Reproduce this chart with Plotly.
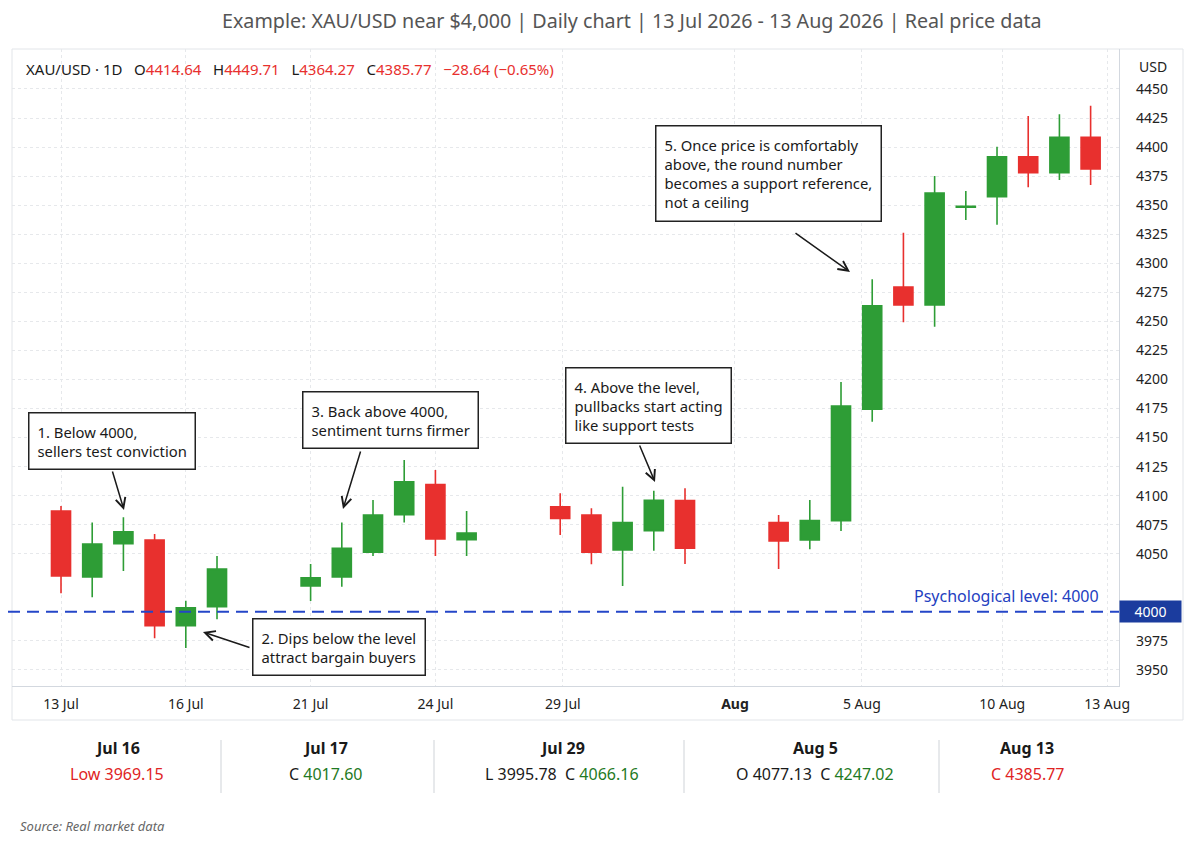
import plotly.graph_objects as go

# Daily XAU/USD candles
dates = [
    "2026-07-13", "2026-07-14", "2026-07-15", "2026-07-16", "2026-07-17", "2026-07-18",
    "2026-07-21", "2026-07-22", "2026-07-23", "2026-07-24", "2026-07-25", "2026-07-26",
    "2026-07-29", "2026-07-30", "2026-07-31", "2026-08-01", "2026-08-02",
    "2026-08-05", "2026-08-06", "2026-08-07", "2026-08-08", "2026-08-09", "2026-08-10",
    "2026-08-11", "2026-08-12", "2026-08-13", "2026-08-14", "2026-08-15",
]
opens = [4086.8, 4030.0, 4058.7, 4061.9, 3988.1, 4004.5,
         4022.3, 4030.0, 4051.3, 4083.6, 4109.5, 4062.1,
         4090.5, 4083.4, 4053.3, 4069.9, 4095.7,
         4076.8, 4061.9, 4078.5, 4174.4, 4279.6, 4264.1,
         4348.2, 4357.3, 4391.7, 4378.0, 4408.4]
highs = [4091.1, 4076.8, 4081.4, 4067.0, 4009.6, 4048.1,
         4041.2, 4076.8, 4096.3, 4130.7, 4122.1, 4086.8,
         4102.1, 4089.2, 4107.7, 4104.3, 4106.4,
         4083.4, 4096.3, 4197.8, 4286.2, 4326.3, 4375.1,
         4362.2, 4400.3, 4426.8, 4428.2, 4435.6]
lows = [4016.0, 4012.6, 4035.2, 3977.3, 3968.9, 3993.6,
        4009.4, 4021.7, 4048.1, 4076.8, 4048.1, 4048.1,
        4066.2, 4041.0, 4022.3, 4052.7, 4041.2,
        4036.9, 4053.9, 4069.6, 4163.7, 4249.2, 4245.4,
        4337.3, 4333.2, 4365.4, 4371.7, 4367.4]
closes = [4030.9, 4058.4, 4069.0, 3988.1, 4003.4, 4036.9,
          4029.4, 4054.7, 4083.4, 4112.0, 4062.7, 4067.9,
          4080.5, 4051.3, 4076.8, 4096.0, 4054.7,
          4061.0, 4078.5, 4177.2, 4263.5, 4264.1, 4360.5,
          4349.0, 4391.7, 4378.0, 4408.4, 4381.2]

level = 4000
price_ticks = [3950, 3975, 4050, 4075, 4100, 4125, 4150, 4175, 4200, 4225,
               4250, 4275, 4300, 4325, 4350, 4375, 4400, 4425, 4450]
date_ticks = ["13 Jul", "16 Jul", "21 Jul", "24 Jul", "29 Jul", "<b>Aug</b>",
              "5 Aug", "10 Aug", "13 Aug"]

callouts = [
    "1. Below 4000,<br>sellers test conviction",
    "2. Dips below the level<br>attract bargain buyers",
    "3. Back above 4000,<br>sentiment turns firmer",
    "4. Above the level,<br>pullbacks start acting<br>like support tests",
    "5. Once price is comfortably<br>above, the round number<br>becomes a support reference,<br>not a ceiling",
]

stat_dates = ["Jul 16", "Jul 17", "Jul 29", "Aug 5", "Aug 13"]
stat_values = [
    "<span style='color:#e02424'>Low 3969.15</span>",
    "C <span style='color:#1f7a24'>4017.60</span>",
    "L 3995.78  C <span style='color:#1f7a24'>4066.16</span>",
    "O 4077.13  C <span style='color:#1f7a24'>4247.02</span>",
    "<span style='color:#e02424'>C 4385.77</span>",
]

GREEN = "#2e9d36"
RED = "#e8302e"
FONT = "Noto Sans"

# page pixels of the plot area: x 12..1119, y 49..686
# (the html body adds an 8px margin, so the figure itself is 8px smaller)
OFF = 8
L, R, T, B = 12, 1119, 49, 686
W, H = R - L, B - T
FIG_W, FIG_H = 1193 - OFF, 846 - OFF


def px(x):
    return (x - L) / W


def py(y):
    return (B - y) / H


fig = go.Figure()
fig.add_trace(go.Candlestick(
    x=dates, open=opens, high=highs, low=lows, close=closes,
    increasing=dict(line=dict(color=GREEN, width=1.6), fillcolor=GREEN),
    decreasing=dict(line=dict(color=RED, width=1.6), fillcolor=RED),
    whiskerwidth=0, showlegend=False, name="XAU/USD",
))

fig.update_layout(
    width=FIG_W, height=FIG_H,
    margin=dict(l=L - OFF, r=FIG_W - (R - OFF), t=T - OFF, b=FIG_H - (B - OFF)),
    paper_bgcolor="white", plot_bgcolor="white",
    font=dict(family=FONT, color="#222"),
    boxgap=0.39, boxgroupgap=0,
    showlegend=False,
    xaxis=dict(
        type="date",
        range=["2026-07-11 10:18", "2026-08-15 21:50"],
        rangeslider=dict(visible=False),
        tickvals=["2026-07-13", "2026-07-17", "2026-07-21", "2026-07-25",
                  "2026-07-29 02:00", "2026-08-03 14:25", "2026-08-07 16:00",
                  "2026-08-12 04:00", "2026-08-15 12:40"],
        ticktext=date_ticks,
        tickfont=dict(size=14, color="#222"),
        ticks="", ticklabelstandoff=5,
        showgrid=True, gridcolor="#e6e8eb", griddash="dot", gridwidth=1,
        showline=True, linecolor="#d3d8df", linewidth=1.2,
        zeroline=False,
    ),
    yaxis=dict(
        side="right",
        range=[3936.2, 4484.4],
        tickvals=price_ticks,
        tickfont=dict(size=14, color="#222"),
        ticks="", ticklabelstandoff=13,
        showgrid=True, gridcolor="#e6e8eb", griddash="dot", gridwidth=1,
        showline=True, linecolor="#d3d8df", linewidth=1.2,
        zeroline=False,
    ),
)

# outer chart panel
fig.add_shape(type="rect", xref="paper", yref="paper",
              x0=px(12), x1=px(1183), y0=py(720), y1=py(49),
              line=dict(color="#e2e5e9", width=1), layer="below")

# psychological level
fig.add_shape(type="line", xref="paper", yref="y",
              x0=px(OFF), x1=1, y0=level, y1=level,
              line=dict(color="#2446c8", width=2, dash="12px,7px"))
fig.add_annotation(text="Psychological level: 4000", xref="paper", yref="paper",
                   x=px(1101), y=py(596), xanchor="right", yanchor="middle",
                   showarrow=False, font=dict(size=16, color="#2340bf"))
fig.add_annotation(text="4000", xref="paper", yref="y", x=1, y=level,
                   xanchor="left", yanchor="middle", showarrow=False,
                   width=55, height=15, borderpad=3, bgcolor="#1b3c9e",
                   font=dict(size=14, color="white"))

# header row
red = "<span style='color:#e8302e'>%s</span>"
gap = "\u00a0\u00a0\u00a0"
header = ("XAU/USD · 1D" + gap + "O" + red % "4414.64" + gap + "H" + red % "4449.71"
          + gap + "L" + red % "4364.27" + gap + "C" + red % "4385.77"
          + gap + red % "−28.64 (−0.65%)")
fig.add_annotation(text=header, xref="paper", yref="paper", x=px(24), y=py(69),
                   xanchor="left", yanchor="middle", showarrow=False,
                   font=dict(size=15, color="#1a1a1a"))
fig.add_annotation(text="USD", xref="paper", yref="paper", x=px(1153), y=py(67),
                   xanchor="center", yanchor="middle", showarrow=False,
                   font=dict(size=14, color="#222"))

# subtitle and source
fig.add_annotation(text="Example: XAU/USD near $4,000 | Daily chart | 13 Jul 2026 - 13 Aug 2026 | Real price data",
                   xref="paper", yref="paper", x=px(632), y=py(20),
                   xanchor="center", yanchor="middle", showarrow=False,
                   font=dict(size=19.7, color="#555"))
fig.add_annotation(text="<i>Source: Real market data</i>", xref="paper", yref="paper",
                   x=px(18), y=py(826), xanchor="left", yanchor="middle",
                   showarrow=False, font=dict(size=13, color="#666"))

# callout boxes (centre in page pixels) and their arrows (tail -> head)
box_centres = [(112, 441), (339, 647), (390, 420), (648, 405), (768, 173)]
arrows = [((112, 470), (124, 510)), ((251, 648), (203, 632)),
          ((361, 450), (343, 509)), ((639, 444), (655, 482)),
          ((794, 232), (850, 272))]
for text, (cx, cy), ((tx, ty), (hx, hy)) in zip(callouts, box_centres, arrows):
    fig.add_annotation(xref="x domain", yref="y domain", axref="x domain", ayref="y domain",
                       x=px(hx), y=py(hy), ax=px(tx), ay=py(ty), text="",
                       showarrow=True, arrowhead=5, arrowsize=1.3, arrowwidth=1.5,
                       arrowcolor="#1a1a1a", standoff=0, startstandoff=0)
    fig.add_annotation(text=text, xref="paper", yref="paper", x=px(cx), y=py(cy),
                       xanchor="center", yanchor="middle", align="left",
                       showarrow=False, bgcolor="white", bordercolor="#222",
                       borderwidth=1.5, borderpad=8,
                       font=dict(size=14.8, color="#1a1a1a"))

# stats strip under the chart
stat_x = [117, 325, 562, 815, 1027]
for d, v, x in zip(stat_dates, stat_values, stat_x):
    fig.add_annotation(text="<b>%s</b>" % d, xref="paper", yref="paper", x=px(x), y=py(748),
                       xanchor="center", yanchor="middle", showarrow=False,
                       font=dict(size=16, color="#1a1a1a"))
    fig.add_annotation(text=v, xref="paper", yref="paper", x=px(x), y=py(774),
                       xanchor="center", yanchor="middle", showarrow=False,
                       font=dict(size=16, color="#1a1a1a"))
for x in [221, 434, 684, 939]:
    fig.add_shape(type="line", xref="paper", yref="paper", x0=px(x), x1=px(x),
                  y0=py(740), y1=py(793), line=dict(color="#cfd3d8", width=1))

fig.write_html("out.html")
